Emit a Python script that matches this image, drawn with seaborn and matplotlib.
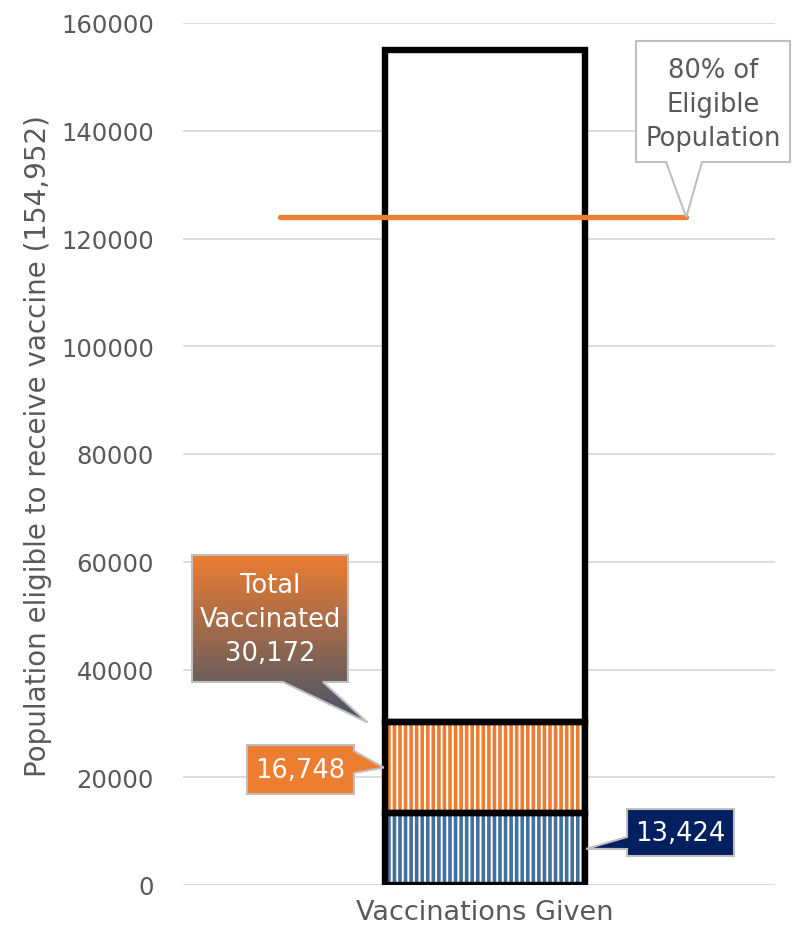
import matplotlib
matplotlib.use("Agg")
import matplotlib.pyplot as plt
import seaborn as sns
import numpy as np
import pandas as pd
from matplotlib.patches import Polygon

# ---------------- data ----------------
categories = ["Vaccinations Given"]
eligible_population = [154952]
series_blue = [13424]
series_orange = [16748]
total_vaccinated = [30172]
target_share = 0.8
y_ticks = [0, 20000, 40000, 60000, 80000, 100000, 120000, 140000, 160000]
y_label = "Population eligible to receive vaccine (154,952)"
callout_target = "80% of\nEligible\nPopulation"
callout_total = "Total\nVaccinated\n{:,}".format(total_vaccinated[0])
callout_orange = "{:,}".format(series_orange[0])
callout_blue = "{:,}".format(series_blue[0])

# ---------------- style ----------------
sns.set_theme(style="white")
plt.rcParams["font.family"] = ["DejaVu Sans"]
plt.rcParams["hatch.linewidth"] = 1.4

W, H = 793, 937
fig = plt.figure(figsize=(W / 100, H / 100), dpi=100)
ax = fig.add_axes([183 / W, 1 - 886 / H, (775 - 183) / W, (886 - 24) / H])

BLUE = "#41719C"
ORANGE = "#ED7D31"
NAVY = "#002060"
GRAY_TXT = "#595959"

df = pd.DataFrame({
    "cat": categories,
    "blue": series_blue,
    "orange": series_orange,
    "rest": [e - t for e, t in zip(eligible_population, total_vaccinated)],
})
bottom_orange = df["blue"].values
bottom_rest = (df["blue"] + df["orange"]).values

# hatched fills
sns.barplot(data=df, x="cat", y="blue", ax=ax, width=0.8, facecolor=BLUE,
            edgecolor="white", hatch="|||", linewidth=0, zorder=2)
sns.barplot(data=df, x="cat", y="orange", ax=ax, width=0.8, bottom=bottom_orange,
            facecolor=ORANGE, edgecolor="white", hatch="|||", linewidth=0, zorder=2)
sns.barplot(data=df, x="cat", y="rest", ax=ax, width=0.8, bottom=bottom_rest,
            facecolor="white", edgecolor="white", linewidth=0, zorder=2)
# black outlines for each segment
for col, bot in (("blue", None), ("orange", bottom_orange), ("rest", bottom_rest)):
    kw = {} if bot is None else {"bottom": bot}
    sns.barplot(data=df, x="cat", y=col, ax=ax, width=0.8, facecolor="none",
                edgecolor="black", linewidth=4.6, zorder=3, **kw)

# 80% target line
target = target_share * eligible_population[0]
line_df = pd.DataFrame({"x": [-0.82, 0.805], "y": [target, target]})
sns.lineplot(data=line_df, x="x", y="y", ax=ax, color=ORANGE, linewidth=3.8,
             solid_capstyle="round", zorder=4)

ax.set_xlim(-1.208, 1.16)
ax.set_ylim(0, 160000)
ax.set_yticks(y_ticks)
ax.set_yticklabels([str(t) for t in y_ticks])
ax.set_xticks([0])
ax.set_xticklabels(categories)
ax.set_xlabel("")
ax.set_ylabel(y_label, fontsize=20, color=GRAY_TXT)
ax.yaxis.set_label_coords(-0.222, 0.51)
ax.tick_params(axis="y", length=0, pad=21, labelsize=17.5, labelcolor=GRAY_TXT)
ax.tick_params(axis="x", length=0, pad=10, labelsize=19.5, labelcolor=GRAY_TXT)
ax.grid(axis="y", color="#D9D9D9", linewidth=1.3, zorder=0)
ax.set_axisbelow(True)
for s in ax.spines.values():
    s.set_visible(False)

# ---------------- callouts (overlay in pixel space) ----------------
ov = fig.add_axes([0, 0, 1, 1], zorder=10)
ov.set_xlim(0, W)
ov.set_ylim(H, 0)
ov.axis("off")
ov.patch.set_alpha(0)

fig.canvas.draw()


def to_px(x, y):
    dx, dy = ax.transData.transform((x, y))
    return dx, H - dy


bar_left, bar_right = -0.4, 0.4
FS = 18.5

# target callout
tip = to_px(line_df["x"].iloc[-1], target)
poly = [(636, 42), (790, 42), (790, 163), (702, 163), tip, (666, 163), (636, 163)]
ov.add_patch(Polygon(poly, closed=True, facecolor="white", edgecolor="#BFBFBF", lw=1.5))
ov.text(713, 105, callout_target, ha="center", va="center", fontsize=FS,
        color=GRAY_TXT, linespacing=1.42)

# total callout with gradient
tip = to_px(bar_left - 0.07, total_vaccinated[0])
poly = [(192, 556), (348, 556), (348, 683), (323, 683), tip, (283, 683), (192, 683)]
pg = Polygon(poly, closed=True, facecolor="none", edgecolor="#BFBFBF", lw=1.5)
ov.add_patch(pg)
grad_cmap = matplotlib.colors.LinearSegmentedColormap.from_list("g", [ORANGE, "#44546A"])
im = ov.imshow(np.linspace(0, 1, 256).reshape(-1, 1), cmap=grad_cmap, aspect="auto",
               extent=(192, 368, tip[1], 556), zorder=1)
im.set_clip_path(pg)
pg.set_zorder(2)
ov.text(270, 620, callout_total, ha="center", va="center", fontsize=FS,
        color="white", linespacing=1.42, zorder=3)
ov.set_xlim(0, W)
ov.set_ylim(H, 0)

# orange segment callout
tip = to_px(bar_left - 0.005, series_blue[0] + series_orange[0] / 2)
poly = [(247, 746), (354, 746), (354, 752), tip, (354, 774), (354, 795), (247, 795)]
ov.add_patch(Polygon(poly, closed=True, facecolor=ORANGE, edgecolor="#BFBFBF", lw=1.5))
ov.text(300, 771, callout_orange, ha="center", va="center", fontsize=FS, color="white")

# blue segment callout
tip = to_px(bar_right + 0.005, series_blue[0] / 2)
poly = [(627, 810), (734, 810), (734, 857), (627, 857), (627, 850), tip, (627, 838)]
ov.add_patch(Polygon(poly, closed=True, facecolor=NAVY, edgecolor="#BFBFBF", lw=1.5))
ov.text(680, 834, callout_blue, ha="center", va="center", fontsize=FS, color="white")

fig.savefig("out.png", dpi=100)
